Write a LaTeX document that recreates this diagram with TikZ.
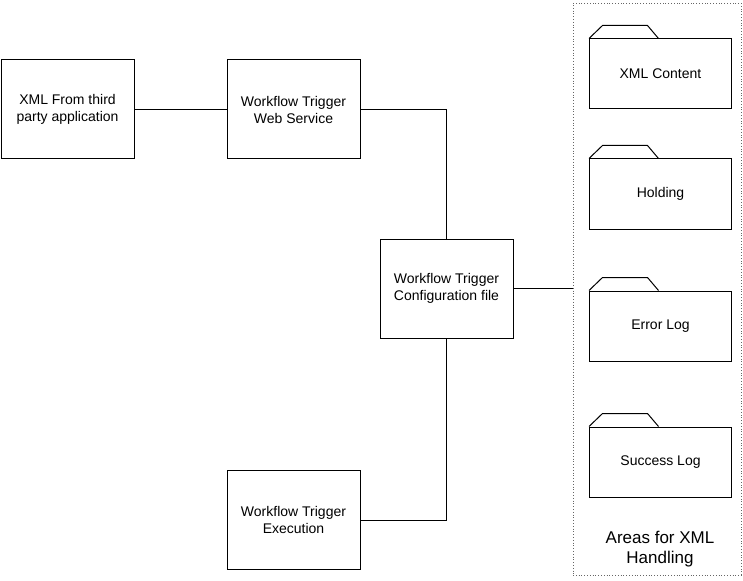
\documentclass[tikz,border=0pt]{standalone}
\usepackage{fontspec}
\setmainfont{Liberation Sans}
\usetikzlibrary{positioning}

\begin{document}
\begin{tikzpicture}[x=1pt, y=-1pt,
    box/.style={draw, line width=1pt, minimum width=133pt, minimum height=99pt,
      inner sep=0pt, align=center, font=\fontsize{14}{17}\selectfont},
    folderbody/.style={draw, line width=1pt, minimum width=142pt, minimum height=70pt,
      inner sep=0pt, align=center, font=\fontsize{14}{17}\selectfont},
    link/.style={line width=1pt}]
  \useasboundingbox (0,0) rectangle (743,580);

  % Main boxes
  \node[box] (xmlsrc) at (67.5, 109.5) {XML From third\\party application};
  \node[box] (websvc) at (293.5, 109.5) {Workflow Trigger\\Web Service};
  \node[box] (config) at (446.5, 288.5) {Workflow Trigger\\Configuration file};
  \node[box] (exec) at (293.5, 520) {Workflow Trigger\\Execution};

  % Dotted area on the right
  \node[draw, dotted, gray!80!black, line width=0.8pt, minimum width=168pt,
    minimum height=572pt, inner sep=0pt] (areas) at (657, 289) {};
  \node[align=center, font=\fontsize{17}{20}\selectfont] (areastext) at (660, 549)
    {Areas for XML\\Handling};

  % Folders
  \foreach \name/\txt/\yc in {content/XML Content/74, holding/Holding/194,
      errlog/Error Log/326, okLog/Success Log/462} {
    \node[folderbody] (\name) at (660.5, \yc) {\txt};
    \draw[link] (\name.north west) -- ++(13.5,-13) -- ++(45,0) -- ++(11,13);
  }

  % Connectors
  \draw[link] (xmlsrc) -- (websvc);
  \draw[link] (websvc.east) -| (config.north);
  \draw[link] (exec.east) -| (config.south);
  \draw[link] (config.east) -- (config.east -| areas.west);
\end{tikzpicture}
\end{document}
